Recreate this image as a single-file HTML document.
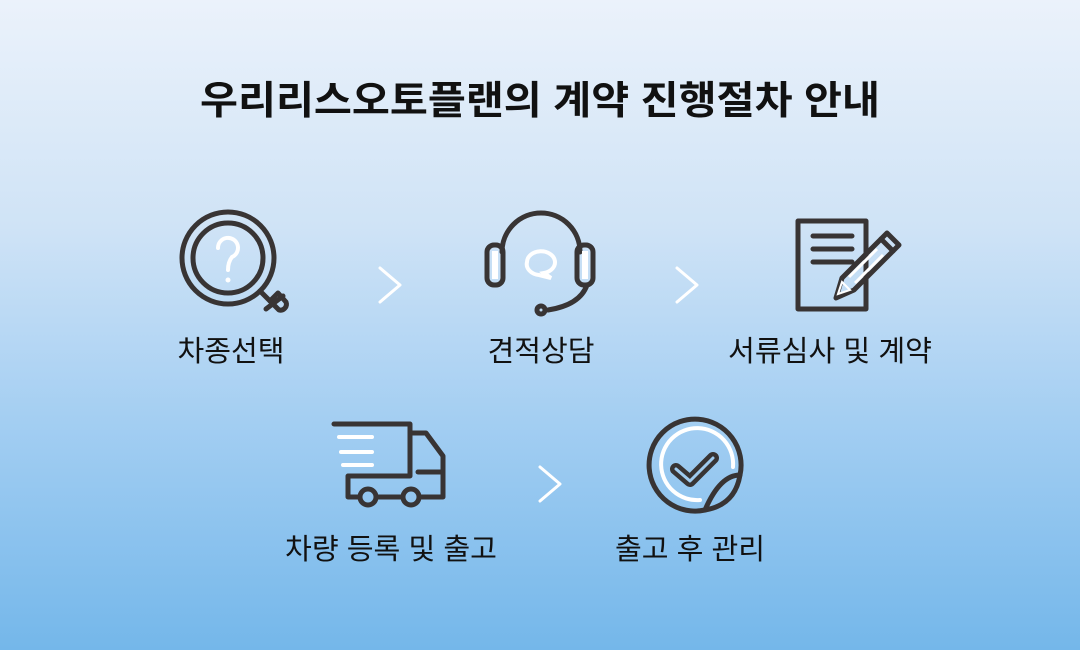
<!DOCTYPE html>
<html><head><meta charset="utf-8"><style>
html,body{margin:0;padding:0}
body{width:1080px;height:650px;overflow:hidden;background:linear-gradient(#ebf2fb 0%,#cfe3f6 35%,#a3cef2 65%,#74b7ea 100%);font-family:"Liberation Sans","Noto Sans CJK KR",sans-serif}
</style></head><body>
<svg width="1080" height="650" viewBox="0 0 1080 650" xmlns="http://www.w3.org/2000/svg" style="position:absolute;left:0;top:0">
<g font-family="Liberation Sans, Noto Sans CJK KR, sans-serif" text-anchor="middle" fill="#111">
<text x="540" y="114" font-size="39" font-weight="bold" textLength="680" lengthAdjust="spacingAndGlyphs">우리리스오토플랜의 계약 진행절차 안내</text>
<text x="231" y="361" font-size="29" textLength="107" lengthAdjust="spacingAndGlyphs">차종선택</text>
<text x="541" y="361" font-size="29" textLength="107" lengthAdjust="spacingAndGlyphs">견적상담</text>
<text x="830" y="361" font-size="29" textLength="204" lengthAdjust="spacingAndGlyphs">서류심사 및 계약</text>
<text x="391" y="559" font-size="29" textLength="212" lengthAdjust="spacingAndGlyphs">차량 등록 및 출고</text>
<text x="690" y="559" font-size="29" textLength="150" lengthAdjust="spacingAndGlyphs">출고 후 관리</text>
</g>
<g fill="none" stroke="#fff" stroke-width="3" stroke-linecap="round" stroke-linejoin="round">
<path d="M380 268 L400 285 L380 302"/>
<path d="M677 268 L697 285 L677 302"/>
<path d="M540 467 L560 484 L540 501"/>
</g>
<g fill="none" stroke="#383434" stroke-width="5" stroke-linecap="round" stroke-linejoin="round">
<!-- magnifier -->
<circle cx="228" cy="258" r="46"/>
<circle cx="228" cy="258" r="35"/>
<path d="M260 291 L270 301"/>
<path d="M270 301 L279 310 A6 6 0 0 0 286 302 L278 293 Z"/>
<path d="M266 309 L283 296"/>
<!-- headset -->
<path d="M502 252 A39 39 0 0 1 580 252"/>
<rect x="487" y="245" width="16" height="40" rx="7"/>
<rect x="577" y="245" width="16" height="40" rx="7"/>
<path d="M587 285 Q580 305 548 310"/>
<circle cx="541" cy="310" r="4"/>
<!-- document -->
<rect x="798" y="221" width="68" height="88"/>
<path d="M813 236 L852 236 M813 249 L852 249 M813 262 L852 262"/>
<path d="M836 298 L842 278 L881 239 L893 251 L854 290 Z"/>
<path d="M881 239 L887 233 L899 245 L893 251"/>
<!-- truck -->
<path d="M334 424 L410 424 L410 476 L348 476 L348 497 L359 497"/>
<path d="M377 497 L402 497"/>
<path d="M420 497 L443 497 L443 456 L426 433 L410 433"/>
<path d="M418 472 L443 472"/>
<circle cx="368" cy="497" r="8"/>
<circle cx="411" cy="497" r="8"/>
<!-- sticker -->
<path d="M740 475 A46 46 0 1 0 705 510"/>
<path d="M705 510 Q735 505 740 475 Q720 475 705 510 Z"/>
<path d="M676 469 L690 481 L713 458" stroke-width="12"/>
</g>
<g fill="none" stroke="#fff" stroke-width="4" stroke-linecap="round">
<path d="M218 248 A10 10 0 1 1 232 257 Q228 262 228 270"/>
<path d="M339 437 L372 437 M341 452 L372 452 M343 465 L372 465"/>
<path d="M733 467 A36 36 0 1 0 700 500"/>
<path d="M838 294 L842 282 L850 290 Z" stroke-width="2"/>
</g>
<circle cx="228" cy="280" r="2.5" fill="#fff"/>
<rect x="492" y="251" width="6" height="28" fill="#fff"/>
<rect x="582" y="251" width="6" height="28" fill="#fff"/>
<path d="M527 262 a14 11 0 1 1 17 11 l7 5 l-12 -3 a14 11 0 0 1 -12 -13z" fill="none" stroke="#fff" stroke-width="4"/>
<path d="M849 277 L877 249 M855 283 L883 255" stroke="#fff" stroke-width="3"/>
<path d="M676 469 L690 481 L713 458" fill="none" stroke="#9fcbef" stroke-width="3" stroke-linecap="round" stroke-linejoin="round"/>
</svg>
</body></html>
